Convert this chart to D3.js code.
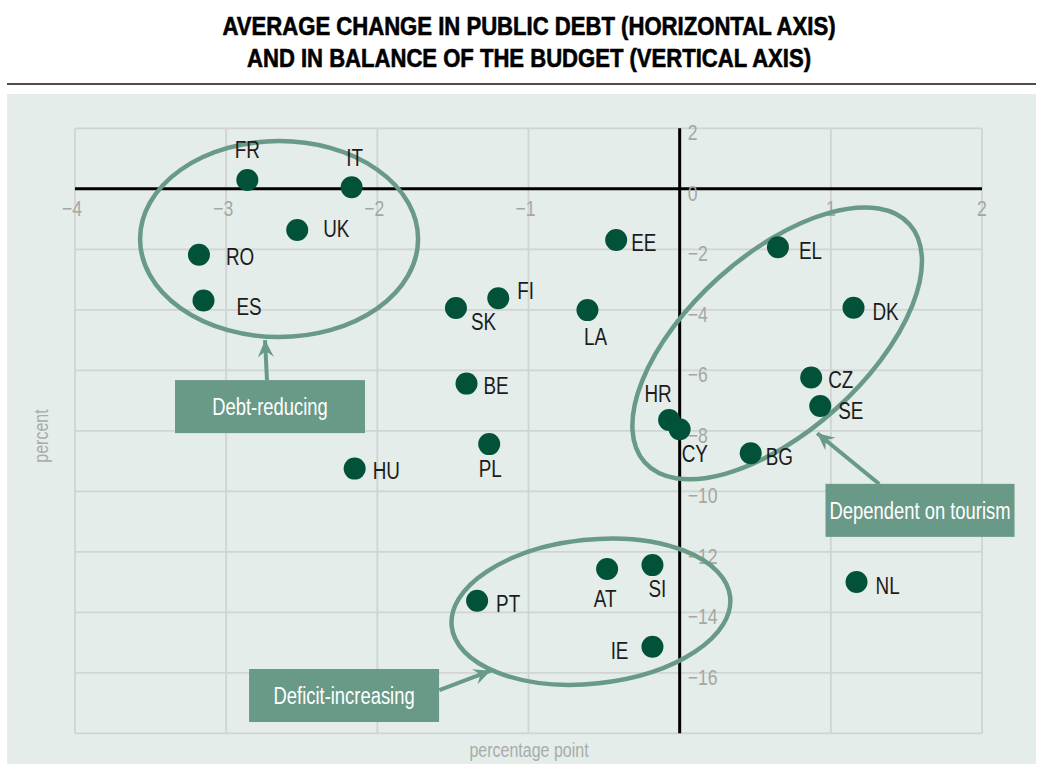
<!DOCTYPE html>
<html>
<head>
<meta charset="utf-8">
<script src="https://cdn.jsdelivr.net/npm/d3@7"></script>
<style>
  body { margin: 0; background: #ffffff; }
  svg { display: block; }
  text { font-family: "Liberation Sans", Arial, sans-serif; }
</style>
</head>
<body>
<svg id="chart" width="1042" height="764"></svg>
<script>
// values
var countries = ["FR", "IT", "UK", "RO", "ES", "SK", "FI", "EE", "LA", "EL", "DK", "BE",
                 "PL", "HU", "PT", "CZ", "SE", "HR", "CY", "BG", "AT", "SI", "IE", "NL"];
var debtChange = [-2.86, -2.17, -2.53, -3.18, -3.15, -1.48, -1.20, -0.42, -0.61, 0.65, 1.15, -1.41,
                  -1.26, -2.15, -1.34, 0.87, 0.93, -0.07, 0.00, 0.47, -0.48, -0.18, -0.18, 1.17];
var balanceChange = [0.29, 0.05, -1.36, -2.18, -3.69, -3.94, -3.62, -1.69, -4.01, -1.93, -3.93, -6.44,
                     -8.44, -9.25, -13.62, -6.24, -7.18, -7.64, -7.95, -8.74, -12.57, -12.44, -15.14, -13.00];
var xTickValues = [-4, -3, -2, -1, 1, 2];
var yTickValues = [2, 0, -2, -4, -6, -8, -10, -12, -14, -16];
var titleLines = ["AVERAGE CHANGE IN PUBLIC DEBT (HORIZONTAL AXIS)",
                  "AND IN BALANCE OF THE BUDGET (VERTICAL AXIS)"];
var groupNames = ["Debt-reducing", "Dependent on tourism", "Deficit-increasing"];
var xTitle = "percentage point";
var yTitle = "percent";

// label placement next to each dot: [dx, dy, anchor]
var labelPlace = {
    FR: [0, -22, "middle"], IT: [3, -21, "middle"], UK: [26, 7, "start"], RO: [27, 10, "start"],
    ES: [33, 15, "start"], SK: [15, 22, "start"], FI: [19, 1, "start"], EE: [15, 11, "start"],
    LA: [8, 35, "middle"], EL: [21, 12, "start"], DK: [19, 12, "start"], BE: [17, 10, "start"],
    PL: [1, 33, "middle"], HU: [18, 10, "start"], PT: [19, 11, "start"], CZ: [17, 10, "start"],
    SE: [18, 13, "start"], HR: [-11, -18, "middle"], CY: [2, 33, "start"], BG: [15, 12, "start"],
    AT: [-2, 38, "middle"], SI: [5, 32, "middle"], IE: [-24, 12, "end"], NL: [19, 12, "start"]
};

// group annotations, placed in data units
var rings = [
    {cx: -2.65, cy: -1.66, rx: 139, ry: 98, rot: 0},
    {cx: 0.645, cy: -5.11, rx: 178, ry: 88, rot: -42},
    {cx: -0.587, cy: -13.98, rx: 140, ry: 72, rot: -6}
];
var boxes = [
    {x: -2.71, y: -7.20, w: 190},
    {x: 1.59, y: -10.63, w: 189},
    {x: -2.22, y: -16.75, w: 190}
];
var arrows = [
    {from: [-2.73, -6.32], to: [-2.743, -5.0]},
    {from: [1.32, -9.76], to: [0.91, -8.08]},
    {from: [-1.59, -16.57], to: [-1.25, -15.93]}
];

var dotColor = "#02523a";
var accent = "#699987";
var gridColor = "#d0d4d2";
var tickColor = "#a4a7a5";

var svg = d3.select("#chart");

var x = d3.scaleLinear().domain([-4, 2]).range([75, 982]);
var y = d3.scaleLinear().domain([2, -18]).range([128.3, 733.3]);

// squeeze a normal-width font to look like a narrow one
function narrow(sel, k) {
    sel.each(function () {
        var w = this.getComputedTextLength();
        d3.select(this)
            .attr("textLength", w * k)
            .attr("lengthAdjust", "spacingAndGlyphs");
    });
}

// title
svg.selectAll("text.title")
    .data(titleLines)
    .enter().append("text")
    .attr("class", "title")
    .attr("x", 529)
    .attr("y", function (d, i) { return 35 + i * 31.7; })
    .attr("text-anchor", "middle")
    .attr("textLength", function (d, i) { return i === 0 ? 613 : 564; })
    .attr("lengthAdjust", "spacingAndGlyphs")
    .style("font-size", "25px")
    .style("font-weight", "bold")
    .style("stroke", "#000")
    .style("stroke-width", 0.6)
    .style("fill", "#000")
    .text(function (d) { return d; });

svg.append("rect")
    .attr("x", 7).attr("y", 83)
    .attr("width", 1029).attr("height", 2)
    .attr("fill", "#4d4d4d");

// panel background
svg.append("rect")
    .attr("x", 7).attr("y", 94)
    .attr("width", 1029).attr("height", 670)
    .attr("fill", "#e4edea");

// grid
var grid = svg.append("g");
grid.selectAll("line.v")
    .data(xTickValues)
    .enter().append("line")
    .attr("x1", function (d) { return x(d); })
    .attr("x2", function (d) { return x(d); })
    .attr("y1", y(2)).attr("y2", y(-18))
    .attr("stroke", gridColor).attr("stroke-width", 1.8);
grid.selectAll("line.h")
    .data(d3.range(2, -19, -2).filter(function (d) { return d !== 0; }))
    .enter().append("line")
    .attr("x1", x(-4)).attr("x2", x(2))
    .attr("y1", function (d) { return y(d); })
    .attr("y2", function (d) { return y(d); })
    .attr("stroke", gridColor).attr("stroke-width", 1.8);

// zero axes
svg.append("line")
    .attr("x1", x(-4)).attr("x2", x(2))
    .attr("y1", y(0)).attr("y2", y(0))
    .attr("stroke", "#000").attr("stroke-width", 3);
svg.append("line")
    .attr("x1", x(0)).attr("x2", x(0))
    .attr("y1", y(2)).attr("y2", y(-18))
    .attr("stroke", "#000").attr("stroke-width", 3);

function fmt(d) {
    return d < 0 ? "\u2212" + Math.abs(d) : String(d);
}

svg.selectAll("text.xtick")
    .data(xTickValues)
    .enter().append("text")
    .attr("class", "xtick")
    .attr("x", function (d) { return x(d) - (d < 0 ? 3 : 0); })
    .attr("y", y(0) + 27)
    .attr("text-anchor", "middle")
    .style("font-size", "22px")
    .style("fill", tickColor)
    .text(fmt)
    .call(narrow, 0.8);

svg.selectAll("text.ytick")
    .data(yTickValues)
    .enter().append("text")
    .attr("class", "ytick")
    .attr("x", x(0) + 8)
    .attr("y", function (d) { return y(d) + 12; })
    .style("font-size", "22px")
    .style("fill", tickColor)
    .text(fmt)
    .call(narrow, 0.8);

// axis titles
svg.append("text")
    .attr("x", 529).attr("y", 757)
    .attr("text-anchor", "middle")
    .style("font-size", "20px")
    .style("fill", "#a9abaa")
    .text(xTitle)
    .call(narrow, 0.8);
svg.append("text")
    .attr("transform", "translate(48,436) rotate(-90)")
    .attr("text-anchor", "middle")
    .style("font-size", "20px")
    .style("fill", "#a9abaa")
    .text(yTitle)
    .call(narrow, 0.8);

// group rings
svg.selectAll("ellipse.ring")
    .data(rings)
    .enter().append("ellipse")
    .attr("class", "ring")
    .attr("cx", function (d) { return x(d.cx); })
    .attr("cy", function (d) { return y(d.cy); })
    .attr("rx", function (d) { return d.rx; })
    .attr("ry", function (d) { return d.ry; })
    .attr("transform", function (d) {
        return "rotate(" + d.rot + "," + x(d.cx) + "," + y(d.cy) + ")";
    })
    .attr("fill", "none")
    .attr("stroke", accent)
    .attr("stroke-width", 4.5);

// arrows
svg.append("defs").append("marker")
    .attr("id", "head")
    .attr("markerUnits", "userSpaceOnUse")
    .attr("viewBox", "-18 -10 20 20")
    .attr("refX", 0).attr("refY", 0)
    .attr("markerWidth", 20).attr("markerHeight", 20)
    .attr("orient", "auto")
    .append("path")
    .attr("d", "M0,0 L-17,-8 L-11,0 L-17,8 Z")
    .attr("fill", accent);

svg.selectAll("line.arrow")
    .data(arrows)
    .enter().append("line")
    .attr("class", "arrow")
    .attr("x1", function (d) { return x(d.from[0]); })
    .attr("y1", function (d) { return y(d.from[1]); })
    .attr("x2", function (d) { return x(d.to[0]); })
    .attr("y2", function (d) { return y(d.to[1]); })
    .attr("stroke", accent)
    .attr("stroke-width", 4)
    .attr("marker-end", "url(#head)");

// label boxes
var box = svg.selectAll("g.box")
    .data(boxes)
    .enter().append("g")
    .attr("class", "box")
    .attr("transform", function (d) { return "translate(" + x(d.x) + "," + y(d.y) + ")"; });
box.append("rect")
    .attr("x", function (d) { return -d.w / 2; })
    .attr("y", -26.5)
    .attr("width", function (d) { return d.w; })
    .attr("height", 53)
    .attr("fill", accent);
box.append("text")
    .attr("y", 8.5)
    .attr("text-anchor", "middle")
    .style("font-size", "23px")
    .style("fill", "#ffffff")
    .text(function (d, i) { return groupNames[i]; })
    .call(narrow, 0.8);

// dots and country labels
var points = countries.map(function (c, i) {
    return {name: c, dx: debtChange[i], bal: balanceChange[i]};
});

svg.selectAll("circle.dot")
    .data(points)
    .enter().append("circle")
    .attr("class", "dot")
    .attr("cx", function (d) { return x(d.dx); })
    .attr("cy", function (d) { return y(d.bal); })
    .attr("r", 11)
    .attr("fill", dotColor);

svg.selectAll("text.country")
    .data(points)
    .enter().append("text")
    .attr("class", "country")
    .attr("x", function (d) { return x(d.dx) + labelPlace[d.name][0]; })
    .attr("y", function (d) { return y(d.bal) + labelPlace[d.name][1]; })
    .attr("text-anchor", function (d) { return labelPlace[d.name][2]; })
    .style("font-size", "23px")
    .style("fill", "#1c1c1c")
    .text(function (d) { return d.name; })
    .call(narrow, 0.82);
</script>
</body>
</html>
